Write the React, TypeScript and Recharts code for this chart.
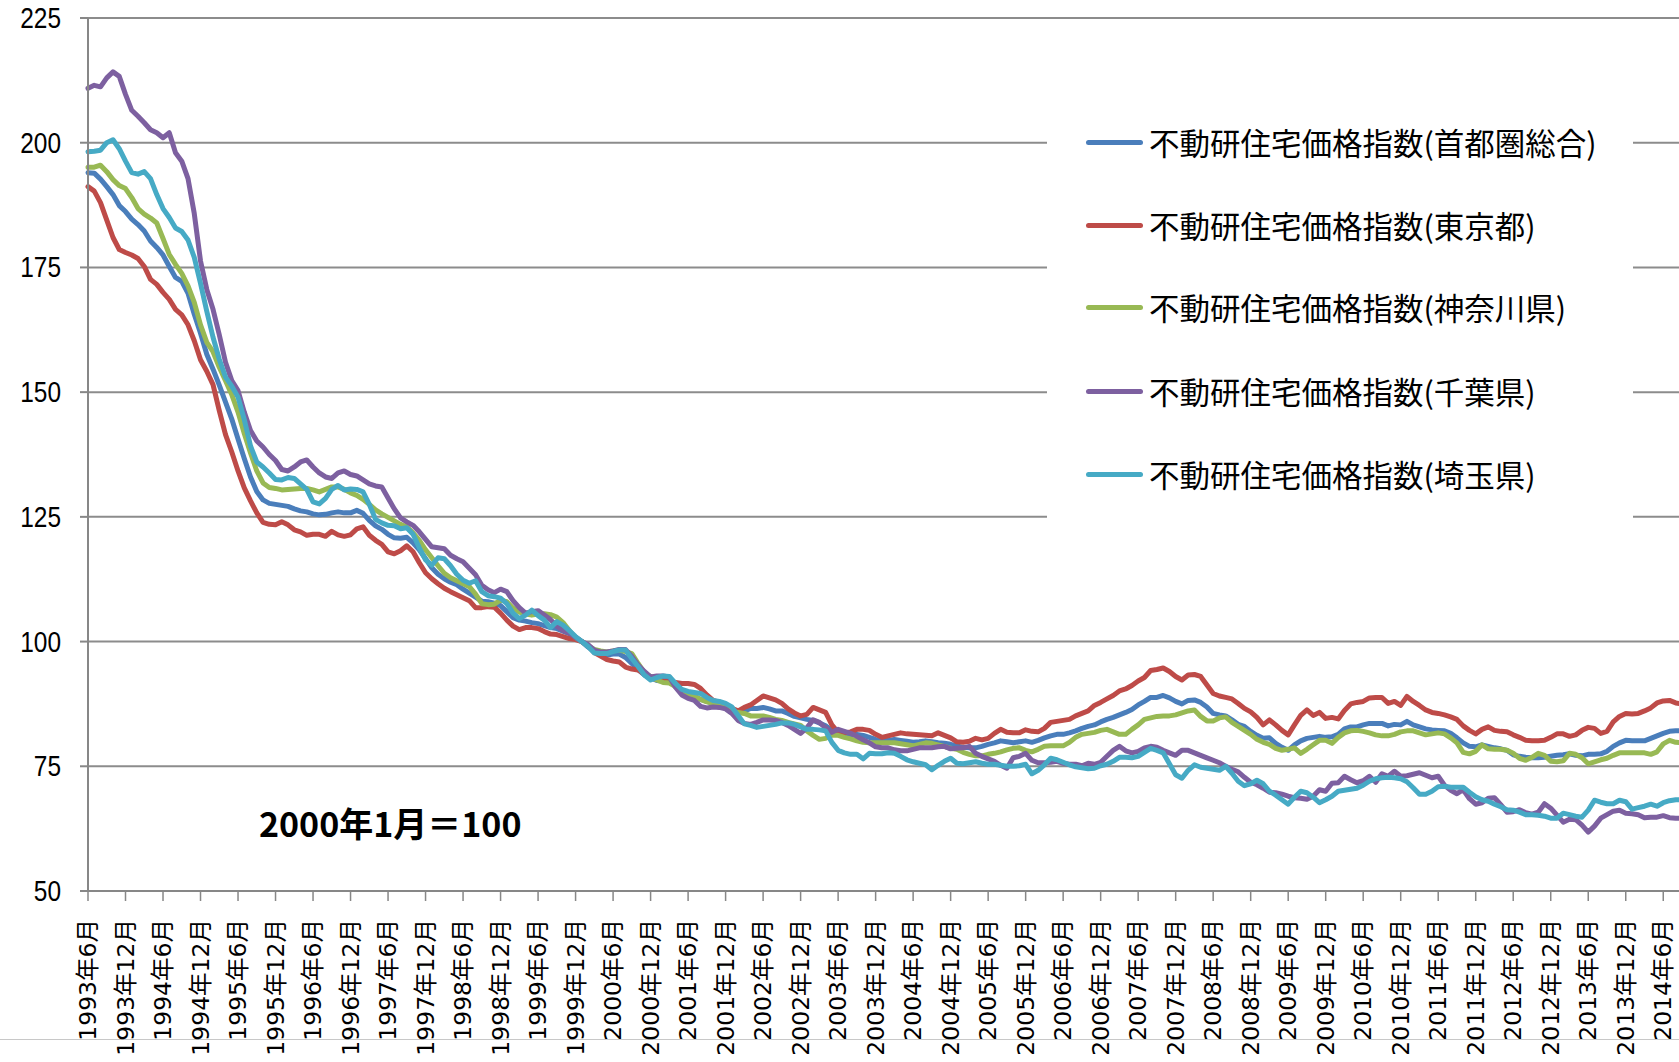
import React from 'react';
import { LineChart, Line, XAxis, YAxis, CartesianGrid, Legend } from 'recharts';

// Monthly index, 1993年6月 = 0 … 2014年9月 = 255
const TICK_LABELS = [
  '1993年6月', '1993年12月', '1994年6月', '1994年12月', '1995年6月', '1995年12月',
  '1996年6月', '1996年12月', '1997年6月', '1997年12月', '1998年6月', '1998年12月',
  '1999年6月', '1999年12月', '2000年6月', '2000年12月', '2001年6月', '2001年12月',
  '2002年6月', '2002年12月', '2003年6月', '2003年12月', '2004年6月', '2004年12月',
  '2005年6月', '2005年12月', '2006年6月', '2006年12月', '2007年6月', '2007年12月',
  '2008年6月', '2008年12月', '2009年6月', '2009年12月', '2010年6月', '2010年12月',
  '2011年6月', '2011年12月', '2012年6月', '2012年12月', '2013年6月', '2013年12月',
  '2014年6月',
];
const TICK_STEP = 6;
const Y_TICKS = [50, 75, 100, 125, 150, 175, 200, 225];

const SHUTOKEN = [
  194.0, 193.9, 192.7, 191.2, 189.6, 187.4, 186.2, 184.7, 183.6, 182.3, 180.3, 179.0,
  177.5, 175.2, 173.0, 172.2, 169.8, 165.6, 161.8, 157.6, 154.6, 151.4, 148.0, 144.6,
  140.6, 136.7, 133.0, 130.1, 128.4, 127.7, 127.5, 127.3, 127.1, 126.6, 126.2, 126.0,
  125.6, 125.4, 125.5, 125.8, 126.0, 125.8, 125.8, 126.3, 125.7, 124.3, 123.2, 122.5,
  121.5, 120.8, 120.7, 120.9, 119.8, 118.4, 116.6, 114.8, 113.5, 112.6, 111.9, 111.4,
  110.5, 109.7, 108.9, 108.1, 108.0, 107.7, 107.2, 106.0, 104.8, 104.3, 104.1, 103.8,
  103.6, 103.2, 102.8, 102.6, 102.1, 101.6, 100.9, 100.0, 98.9, 98.0, 97.5, 97.3,
  97.5, 97.5, 96.8, 95.6, 94.4, 93.3, 92.7, 92.2, 92.1, 91.9, 91.2, 90.3,
  89.7, 89.0, 88.4, 88.0, 87.6, 87.2, 86.8, 86.4, 85.9, 86.1, 86.6, 86.6,
  86.8, 86.5, 86.1, 86.1, 85.6, 85.0, 84.7, 84.4, 84.2, 83.7, 83.1, 82.2,
  81.5, 81.2, 81.3, 81.4, 81.2, 80.8, 80.4, 80.2, 80.2, 80.4, 80.2, 80.0,
  79.8, 79.9, 80.1, 79.9, 79.7, 79.6, 79.4, 79.1, 78.8, 78.7, 78.7, 79.0,
  79.4, 79.7, 80.1, 79.9, 79.7, 79.9, 80.1, 79.8, 80.2, 80.7, 81.1, 81.4,
  81.4, 81.7, 82.1, 82.6, 83.0, 83.3, 83.9, 84.4, 84.8, 85.3, 85.8, 86.4,
  87.3, 88.0, 88.8, 88.8, 89.2, 88.7, 88.0, 87.5, 88.2, 88.3, 87.8, 86.9,
  85.6, 85.3, 85.1, 84.3, 83.4, 83.0, 82.0, 81.2, 80.6, 80.7, 79.6, 78.8,
  78.2, 79.3, 80.1, 80.6, 80.8, 81.0, 80.8, 80.9, 81.4, 82.5, 82.9, 82.9,
  83.3, 83.6, 83.6, 83.6, 83.1, 83.4, 83.3, 84.0, 83.3, 82.9, 82.5, 82.3,
  82.2, 82.1, 81.6, 80.7, 79.7, 79.0, 78.9, 79.3, 79.0, 78.7, 78.5, 78.2,
  77.3, 77.0, 76.8, 76.7, 76.7, 76.8, 77.0, 77.2, 77.3, 77.5, 77.2, 77.1,
  77.4, 77.4, 77.5, 78.0, 79.0, 79.7, 80.2, 80.1, 80.1, 80.1, 80.6, 81.1,
  81.6, 82.0, 82.1, 82.1,
];

const TOKYO = [
  191.2, 190.3, 188.0, 184.5, 181.0, 178.6, 178.0, 177.5, 176.8, 175.2, 172.6, 171.6,
  170.0, 168.6, 166.6, 165.5, 163.5, 160.3, 156.5, 154.2, 151.5, 146.3, 141.5, 138.0,
  134.2, 130.8, 128.2, 125.8, 123.9, 123.5, 123.4, 124.0, 123.4, 122.4, 122.0, 121.3,
  121.5, 121.5, 121.1, 122.1, 121.4, 121.1, 121.4, 122.6, 123.0, 121.3, 120.3, 119.5,
  118.0, 117.6, 118.2, 119.2, 118.0, 115.8, 113.8, 112.6, 111.6, 110.7, 110.0, 109.4,
  108.8, 108.2, 106.8, 106.8, 107.0, 106.9, 105.7, 104.3, 103.1, 102.4, 102.8, 102.8,
  102.6, 102.0, 101.5, 101.4, 101.0, 100.6, 100.4, 100.0, 99.2, 97.8, 97.1, 96.4,
  96.1, 95.9, 94.9, 94.5, 94.3, 93.5, 92.9, 92.6, 92.2, 92.0, 91.8, 91.6,
  91.6, 91.4, 90.6, 89.3, 88.2, 87.8, 87.2, 86.6, 86.1, 86.8, 87.3, 88.2,
  89.1, 88.7, 88.3, 87.6, 86.5, 85.7, 85.1, 85.4, 86.8, 86.3, 85.8, 83.3,
  81.8, 81.7, 81.9, 82.4, 82.4, 82.2, 81.4, 80.8, 81.1, 81.4, 81.7, 81.5,
  81.4, 81.3, 81.2, 81.1, 81.7, 81.2, 80.7, 79.9, 79.8, 80.0, 80.6, 80.3,
  80.6, 81.6, 82.4, 81.8, 81.7, 81.7, 82.3, 82.0, 81.9, 82.6, 83.8, 84.0,
  84.2, 84.4, 85.1, 85.6, 86.1, 87.2, 87.8, 88.5, 89.2, 90.1, 90.5, 91.2,
  92.1, 92.8, 94.2, 94.4, 94.7, 94.0, 93.0, 92.3, 93.3, 93.4, 93.0, 91.3,
  89.6, 89.1, 88.8, 88.5, 87.6, 86.6, 85.9, 84.8, 83.3, 84.3, 83.3, 82.2,
  81.3, 83.3, 85.2, 86.3, 85.2, 85.8, 84.6, 84.8, 84.5, 86.2, 87.5, 87.8,
  88.0, 88.7, 88.8, 88.8, 87.6, 88.0, 87.2, 89.0, 88.0, 87.2, 86.3, 85.8,
  85.6, 85.3, 84.9, 84.4, 83.1, 82.2, 81.5, 82.4, 82.9, 82.2, 82.0, 81.9,
  81.3, 80.8, 80.2, 80.1, 80.1, 80.2, 80.8, 81.5, 81.5, 81.0, 81.3, 82.2,
  82.8, 82.6, 81.6, 82.0, 83.9, 85.0, 85.6, 85.5, 85.6, 86.1, 86.7, 87.7,
  88.1, 88.2, 87.7, 87.5,
];

const KANAGAWA = [
  195.1, 195.1, 195.5, 194.2, 192.6, 191.4, 190.8, 189.0, 186.8, 185.7, 184.9, 183.9,
  180.8, 177.6, 175.6, 173.8, 171.3, 168.0, 163.5, 160.0, 158.1, 155.0, 152.3, 149.5,
  146.0, 141.7, 137.8, 134.2, 131.8, 130.9, 130.7, 130.4, 130.5, 130.6, 130.7, 130.7,
  130.4, 130.0, 130.5, 131.0, 131.0, 130.5, 129.8, 129.3, 128.5, 127.5, 126.4, 125.6,
  124.9, 124.2, 123.5, 123.0, 121.8, 120.3, 118.4, 116.8, 115.2, 113.7, 112.8, 112.2,
  111.6, 111.0, 109.5, 107.6, 107.4, 107.5, 108.3, 108.0, 106.7, 105.9, 105.5, 105.3,
  105.5, 105.6, 105.4, 104.9, 103.8, 102.2, 100.8, 100.0, 99.1, 98.4, 98.1, 97.9,
  98.1, 98.3, 98.0, 97.6, 95.6, 93.8, 93.0, 92.3, 91.8, 91.7, 91.0, 90.3,
  89.6, 89.1, 88.4, 87.9, 87.6, 87.1, 86.6, 86.0, 85.8, 85.6, 85.1, 85.1,
  85.1, 84.8, 84.4, 84.2, 83.8, 83.5, 83.2, 82.1, 81.2, 80.4, 80.6, 81.2,
  81.2, 80.8, 80.5, 80.1, 79.8, 79.7, 79.7, 79.7, 79.7, 79.7, 79.5, 79.3,
  79.1, 79.4, 79.7, 79.6, 79.3, 79.0, 78.6, 78.4, 77.8, 77.4, 77.1, 77.1,
  77.4, 77.6, 77.9, 78.3, 78.6, 78.7, 78.2, 77.9, 78.4, 79.0, 79.1, 79.1,
  79.1, 79.8, 80.8, 81.4, 81.6, 81.8, 82.2, 82.4, 81.9, 81.4, 81.4, 82.4,
  83.3, 84.4, 84.7, 85.0, 85.1, 85.1, 85.3, 85.7, 86.1, 86.3, 85.0, 84.1,
  84.1, 84.7, 84.9, 83.8, 83.0, 82.2, 81.4, 80.4, 79.8, 79.4, 78.6, 78.2,
  78.4, 78.7, 77.6, 78.4, 79.3, 80.2, 80.2, 79.6, 80.8, 81.7, 82.1, 82.2,
  82.0, 81.7, 81.3, 81.1, 81.1, 81.4, 81.9, 82.1, 82.1, 81.7, 81.3, 81.5,
  81.7, 81.5, 80.7, 79.7, 77.8, 77.5, 78.0, 79.3, 78.5, 78.4, 78.4, 78.2,
  77.6, 76.6, 76.2, 76.8, 77.6, 77.2, 76.0, 75.9, 76.1, 77.6, 77.4, 76.7,
  75.5, 75.9, 76.3, 76.6, 77.2, 77.7, 77.7, 77.7, 77.7, 77.7, 77.4, 77.9,
  79.5, 80.2, 79.8, 79.7,
];

const CHIBA = [
  210.9, 211.5, 211.2, 213.0, 214.2, 213.3, 209.7, 206.5, 205.3, 204.0, 202.6, 202.0,
  201.0, 202.0, 198.0, 196.3, 192.8, 185.8, 176.3, 170.6, 166.6, 161.5, 156.0, 152.3,
  150.3, 146.0, 142.3, 140.2, 139.0, 137.5, 136.3, 134.5, 134.2, 135.0, 136.0, 136.4,
  135.0, 133.8, 133.0, 132.7, 133.8, 134.2, 133.5, 133.2, 132.4, 131.6, 131.2, 131.0,
  128.8, 126.6, 124.8, 124.0, 123.3, 122.0, 120.5, 119.0, 118.8, 118.6, 117.3, 116.6,
  116.0, 114.7, 113.4, 111.3, 110.4, 109.8, 110.5, 110.0, 108.2, 106.8, 105.7, 106.0,
  106.2, 105.3, 104.4, 103.1, 102.2, 101.7, 100.8, 100.0, 99.4, 98.3, 97.9, 97.9,
  98.1, 98.4, 98.4, 97.0, 95.3, 94.0, 92.9, 93.1, 93.1, 92.9, 90.8, 89.3,
  88.6, 88.2, 87.0, 86.7, 86.9, 86.8, 86.5, 85.6, 84.2, 83.6, 83.4, 83.8,
  84.3, 84.3, 84.2, 83.8, 83.2, 82.4, 81.6, 82.7, 84.3, 83.8, 82.7, 81.8,
  82.4, 82.0, 81.6, 81.0, 80.3, 79.7, 78.9, 78.7, 78.7, 78.3, 78.1, 78.1,
  78.4, 78.7, 78.7, 78.7, 78.9, 79.0, 78.5, 78.6, 78.7, 79.0, 77.6, 77.0,
  76.5, 76.0, 75.2, 74.6, 76.7, 77.0, 77.6, 76.2, 75.7, 75.7, 75.8, 76.0,
  75.6, 75.4, 75.4, 75.1, 75.6, 75.4, 75.8, 77.0, 78.2, 79.0, 78.1, 77.7,
  78.0, 78.7, 79.0, 78.8, 78.2, 77.7, 77.2, 78.2, 78.2, 77.7, 77.2, 76.7,
  76.2, 75.7, 75.0, 74.4, 73.9, 72.8, 71.8, 71.3, 70.6, 69.8, 69.7, 69.4,
  69.0, 68.7, 68.6, 68.4, 69.0, 70.3, 70.0, 71.6, 71.7, 73.0, 72.3, 71.7,
  72.1, 73.0, 71.8, 73.5, 73.0, 74.0, 73.0, 73.1, 73.4, 73.7, 73.2, 72.7,
  73.0, 71.2, 70.2, 69.5, 70.3, 68.5, 67.4, 67.7, 68.6, 68.7, 67.3, 65.8,
  65.9, 66.3, 65.7, 65.4, 65.8, 67.5, 66.6, 65.2, 63.8, 64.4, 64.3, 63.2,
  61.8, 63.0, 64.6, 65.3, 66.0, 66.2, 65.6, 65.5, 65.3, 64.7, 64.8, 64.8,
  65.1, 64.7, 64.6, 64.6,
];

const SAITAMA = [
  198.2, 198.3, 198.5, 200.0, 200.6, 198.8, 196.3, 194.0, 193.7, 194.2, 192.8, 189.6,
  186.8, 185.0, 182.9, 182.2, 180.5, 177.0, 171.8, 166.2, 161.0, 156.6, 153.0, 151.2,
  149.0, 144.5, 139.2, 136.0, 135.0, 133.8, 132.5, 132.4, 132.9, 132.7, 131.6, 130.5,
  128.0, 127.6, 128.7, 130.5, 131.3, 130.4, 130.6, 130.5, 130.0, 127.5, 124.5, 123.8,
  123.3, 123.2, 122.6, 122.8, 121.5, 118.8, 116.4, 115.3, 116.8, 116.6, 115.2, 113.5,
  112.3, 111.7, 112.2, 110.0, 109.2, 109.0, 108.7, 107.6, 105.7, 104.6, 105.3, 106.3,
  105.2, 104.3, 102.8, 104.0, 103.3, 102.2, 101.0, 100.0, 99.0, 97.7, 97.6, 97.6,
  98.0, 98.3, 98.3, 96.6, 95.0, 93.3, 92.3, 92.8, 93.1, 93.0, 91.6, 90.4,
  90.0, 89.8, 89.6, 88.8, 88.2, 88.0, 87.6, 86.9, 85.2, 83.5, 83.2, 82.8,
  83.0, 83.2, 83.4, 83.7, 83.7, 83.4, 82.9, 82.4, 82.4, 82.3, 82.1, 79.8,
  78.2, 77.7, 77.4, 77.4, 76.5, 77.6, 77.5, 77.5, 77.7, 77.6, 77.0, 76.3,
  75.9, 75.6, 75.3, 74.3, 75.2, 76.0, 76.6, 75.6, 75.5, 75.7, 75.9, 75.6,
  75.4, 75.4, 75.2, 75.0, 75.0, 75.1, 75.4, 73.5, 74.2, 75.3, 76.6, 76.3,
  75.8, 75.3, 74.9, 74.7, 74.5, 74.6, 75.1, 75.4, 76.0, 76.8, 76.8, 76.7,
  77.0, 77.8, 78.6, 78.2, 77.7, 75.5, 73.3, 72.6, 74.2, 75.3, 74.8, 74.6,
  74.4, 74.2, 75.0, 73.6, 72.0, 71.1, 71.5, 72.2, 71.5, 70.0, 69.2, 68.3,
  67.4, 68.8, 70.0, 69.7, 68.8, 67.7, 68.3, 69.0, 70.0, 70.2, 70.4, 70.6,
  71.2, 72.0, 72.5, 72.7, 72.8, 72.7, 72.5, 71.9, 70.7, 69.4, 69.4, 70.0,
  70.9, 71.0, 70.8, 70.8, 70.8, 69.8, 68.9, 68.3, 68.0, 67.4, 66.9, 66.3,
  66.2, 65.8, 65.3, 65.3, 65.2, 65.0, 64.6, 64.6, 65.6, 65.3, 65.0, 64.8,
  66.2, 68.2, 67.8, 67.5, 67.5, 68.2, 67.9, 66.4, 66.7, 67.0, 67.4, 67.0,
  67.7, 68.1, 68.3, 68.3,
];

const SERIES = [
  { key: 'shutoken', name: '不動研住宅価格指数(首都圏総合)', color: '#4A7EBB', values: SHUTOKEN },
  { key: 'tokyo', name: '不動研住宅価格指数(東京都)', color: '#BE4B48', values: TOKYO },
  { key: 'kanagawa', name: '不動研住宅価格指数(神奈川県)', color: '#98B954', values: KANAGAWA },
  { key: 'chiba', name: '不動研住宅価格指数(千葉県)', color: '#7D60A0', values: CHIBA },
  { key: 'saitama', name: '不動研住宅価格指数(埼玉県)', color: '#46AAC5', values: SAITAMA },
];

const N = Math.max(...SERIES.map((s) => s.values.length));
const data = Array.from({ length: N }, (_, i) => {
  const row: Record<string, number> = { i };
  SERIES.forEach((s) => {
    row[s.key] = s.values[i];
  });
  return row;
});
const X_TICKS = TICK_LABELS.map((_, k) => k * TICK_STEP);

const AXIS_GRAY = '#878787';
const CJK = "'Noto Sans CJK JP', 'Noto Sans', sans-serif";

const XTick = (props: any) => {
  const { x, y, payload } = props;
  const label = TICK_LABELS[Math.round(payload.value / TICK_STEP)];
  return (
    <text
      x={x}
      y={y}
      transform={`rotate(-90 ${x} ${y})`}
      textAnchor="end"
      dominantBaseline="central"
      fontSize={23.5}
      fontFamily="'DejaVu Sans', 'Noto Sans CJK JP', sans-serif"
      fill="#000"
    >
      {label}
    </text>
  );
};

// condensed numeric labels like the original's narrow face
const YTick = (props: any) => {
  const { x, y, payload } = props;
  const label = String(payload.value);
  return (
    <text
      x={x}
      y={y}
      textAnchor="end"
      dominantBaseline="central"
      fontSize={29}
      fontFamily="'Liberation Sans', Arial, sans-serif"
      textLength={label.length * 13.6}
      lengthAdjust="spacingAndGlyphs"
      fill="#000"
    >
      {label}
    </text>
  );
};

const ROW_CENTERS = [47, 130, 212, 296, 379];

const LegendBox = () => (
  <div style={{ position: 'relative', width: 586, height: 440, background: '#fff' }}>
    {SERIES.map((s, k) => (
      <div
        key={s.key}
        style={{
          position: 'absolute',
          left: 39,
          top: ROW_CENTERS[k] - 20,
          height: 40,
          display: 'flex',
          alignItems: 'center',
          whiteSpace: 'nowrap',
        }}
      >
        <div style={{ width: 57, height: 5, borderRadius: 3, background: s.color }} />
        <span style={{ marginLeft: 6, fontSize: 30.5, fontFamily: CJK, color: '#000', lineHeight: '40px' }}>
          {s.name}
        </span>
      </div>
    ))}
  </div>
);

export default function App() {
  return (
    <div
      style={{
        position: 'absolute',
        left: 0,
        top: 0,
        width: 1679,
        height: 1062,
        overflow: 'hidden',
        background: '#fff',
      }}
    >
      <div style={{ position: 'absolute', left: 0, top: 1039, width: 1679, height: 1, background: '#c8c8c8' }} />
      <div style={{ position: 'absolute', left: 0, top: 0 }}>
        <LineChart width={1682} height={1062} data={data} margin={{ top: 18, right: 0, bottom: 0, left: 0 }}>
          <CartesianGrid horizontal vertical={false} stroke="#8c8c8c" strokeWidth={2} />
          <XAxis
            dataKey="i"
            type="number"
            domain={[0, N - 1]}
            ticks={X_TICKS}
            interval={0}
            height={171}
            tick={<XTick />}
            tickSize={10}
            tickMargin={18}
            axisLine={{ stroke: AXIS_GRAY, strokeWidth: 2 }}
            tickLine={{ stroke: AXIS_GRAY, strokeWidth: 1.5 }}
            allowDecimals={false}
          />
          <YAxis
            type="number"
            domain={[50, 225]}
            ticks={Y_TICKS}
            interval={0}
            width={88}
            tickSize={8}
            tickMargin={19}
            tick={<YTick />}
            axisLine={{ stroke: AXIS_GRAY, strokeWidth: 2 }}
            tickLine={{ stroke: AXIS_GRAY, strokeWidth: 2 }}
          />
          {SERIES.map((s) => (
            <Line
              key={s.key}
              type="linear"
              dataKey={s.key}
              name={s.name}
              stroke={s.color}
              strokeWidth={5}
              strokeLinejoin="round"
              strokeLinecap="round"
              dot={false}
              activeDot={false}
              isAnimationActive={false}
            />
          ))}
          <Legend
            layout="vertical"
            align="center"
            verticalAlign="middle"
            content={() => <LegendBox />}
            wrapperStyle={{ position: 'absolute', left: 1047, top: 95, width: 586, height: 440 }}
          />
        </LineChart>
      </div>
      <div
        style={{
          position: 'absolute',
          left: 259,
          top: 805,
          fontSize: 34,
          fontWeight: 700,
          fontFamily: CJK,
          lineHeight: '36px',
          color: '#000',
          whiteSpace: 'nowrap',
        }}
      >
        2000年1月＝100
      </div>
    </div>
  );
}
